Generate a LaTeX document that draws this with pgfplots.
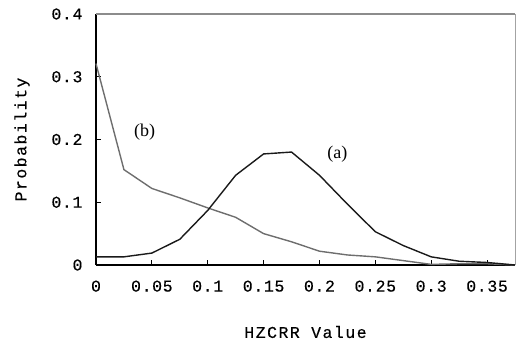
\documentclass[border=0pt]{standalone}
\usepackage{pgfplots}
\pgfplotsset{compat=1.18}
\usepackage{fontspec}
\setmainfont{Liberation Serif}
\newfontfamily\labelfont[LetterSpace=4, FakeBold=0.3]{Liberation Mono}
\newfontfamily\titlefont[LetterSpace=9, FakeBold=0.3]{Liberation Mono}

\definecolor{curveA}{HTML}{1A1A1A}
\definecolor{curveB}{HTML}{6E6E6E}
\definecolor{frame}{HTML}{8C8C8C}

\begin{document}
\begin{tikzpicture}
\begin{axis}[
  anchor=origin,
  at={(0pt,0pt)},
  scale only axis,
  width=419pt, height=251pt,
  xmin=0, xmax=0.375,
  ymin=0, ymax=0.4,
  axis x line*=bottom,
  axis y line*=left,
  axis line style={-, line width=1.4pt, black},
  xtick={0,0.05,0.1,0.15,0.2,0.25,0.3,0.35},
  xticklabels={0,0.05,0.1,0.15,0.2,0.25,0.3,0.35},
  ytick={0,0.1,0.2,0.3,0.4},
  yticklabels={0,0.1,0.2,0.3,0.4},
  tick align=inside,
  major tick length=5pt,
  tick style={line width=1pt, black},
  tick label style={font=\fontsize{16.5}{19}\labelfont},
  xticklabel style={yshift=-12pt},
  yticklabel style={xshift=-10pt},
  xlabel={HZCRR Value},
  ylabel={Probability},
  label style={font=\fontsize{16.5}{19}\titlefont},
  xlabel style={at={(rel axis cs:0.5,0)}, anchor=center, yshift=-67pt},
  ylabel style={at={(rel axis cs:0,0.5)}, anchor=center, yshift=74pt},
  clip=false,
]
  % (b): decaying distribution
  \addplot[color=curveB, line width=1.4pt, mark=none] coordinates {
    (0,0.321) (0.025,0.152) (0.05,0.122) (0.075,0.107) (0.1,0.091)
    (0.125,0.076) (0.15,0.050) (0.175,0.037) (0.2,0.022) (0.225,0.016)
    (0.25,0.013) (0.275,0.007) (0.3,0.001) (0.325,0.002) (0.35,0.002)
    (0.375,0)
  };
  % (a): peaked distribution
  \addplot[color=curveA, line width=1.4pt, mark=none] coordinates {
    (0,0.013) (0.025,0.013) (0.05,0.019) (0.075,0.041) (0.1,0.087)
    (0.125,0.143) (0.15,0.177) (0.175,0.180) (0.2,0.143) (0.225,0.097)
    (0.25,0.053) (0.275,0.031) (0.3,0.013) (0.325,0.006) (0.35,0.004)
    (0.375,0)
  };
  % upper and right frame
  \draw[frame, line width=1.1pt] (rel axis cs:0,1) -- (rel axis cs:1,1);
  \draw[frame!80, line width=0.8pt] (rel axis cs:1,1) -- (rel axis cs:1,0);
  \node[font=\fontsize{18}{21}\selectfont] at (axis cs:0.0435,0.211) {(b)};
  \node[font=\fontsize{18}{21}\selectfont] at (axis cs:0.216,0.176) {(a)};
\end{axis}
\pgfresetboundingbox
\path[use as bounding box] (-96pt,-78pt) rectangle (420pt,265pt);
\end{tikzpicture}
\end{document}
